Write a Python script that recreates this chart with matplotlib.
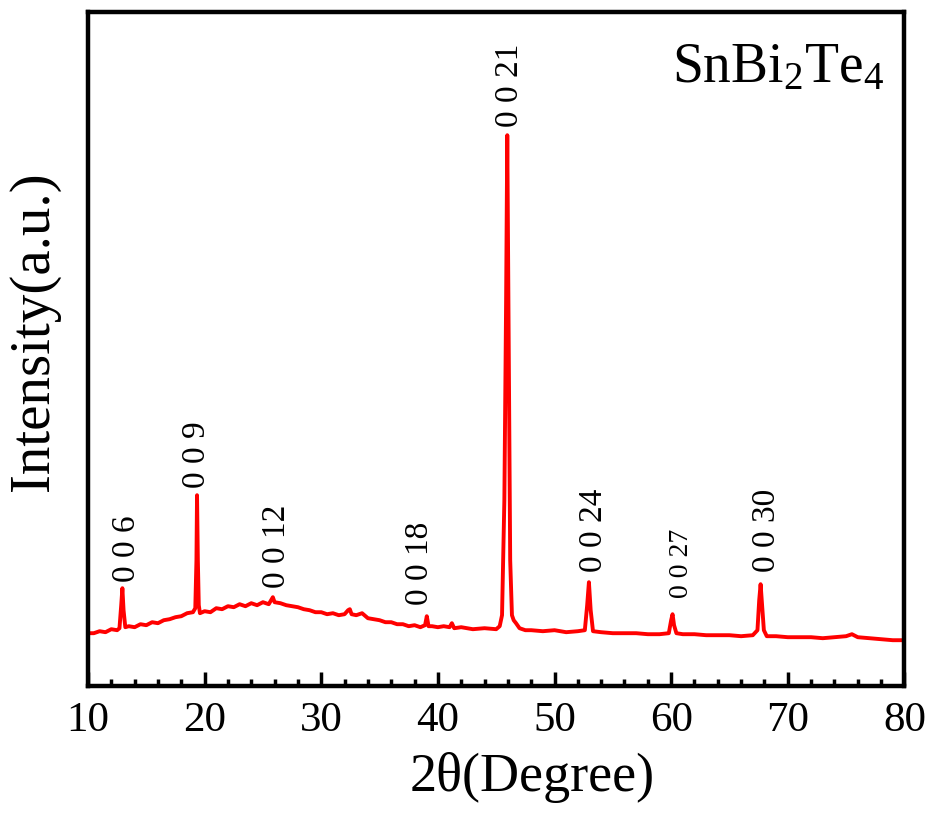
import matplotlib
matplotlib.use("Agg")
import matplotlib.pyplot as plt
from matplotlib.ticker import MultipleLocator

plt.rcParams["font.family"] = ["Liberation Serif", "DejaVu Serif"]
plt.rcParams["mathtext.fontset"] = "custom"
plt.rcParams["mathtext.rm"] = "Liberation Serif"
plt.rcParams["mathtext.it"] = "Liberation Serif:italic"

# ── XRD pattern (2θ in degrees, intensity a.u.) ──
two_theta = [
    10.0, 10.5, 11.0, 11.5, 12.0, 12.5, 12.7, 12.85, 12.95, 13.05, 13.2, 13.5,
    14.0, 14.5, 15.0, 15.5, 16.0, 16.5, 17.0, 17.5, 18.0, 18.5, 19.0, 19.2,
    19.3, 19.35, 19.42, 19.5, 19.6, 20.0, 20.5, 21.0, 21.5, 22.0, 22.5, 23.0,
    23.5, 24.0, 24.5, 25.0, 25.5, 25.7, 25.85, 26.0, 26.5, 27.0, 27.5, 28.0,
    28.5, 29.0, 29.5, 30.0, 30.5, 31.0, 31.5, 32.0, 32.3, 32.45, 32.6, 33.0,
    33.5, 34.0, 34.5, 35.0, 35.5, 36.0, 36.5, 37.0, 37.5, 38.0, 38.5, 38.9,
    39.05, 39.2, 39.5, 40.0, 40.5, 41.0, 41.2, 41.4, 42.0, 43.0, 44.0, 45.0,
    45.3, 45.5, 45.7, 45.85, 45.95, 46.05, 46.2, 46.35, 46.5, 46.7, 47.0, 47.5,
    48.0, 49.0, 50.0, 51.0, 52.0, 52.6, 52.8, 52.95, 53.1, 53.3, 54.0, 55.0,
    56.0, 57.0, 58.0, 59.0, 59.8, 60.0, 60.12, 60.25, 60.45, 61.0, 62.0, 63.0,
    64.0, 65.0, 66.0, 67.0, 67.4, 67.55, 67.67, 67.8, 67.95, 68.2, 69.0, 70.0,
    71.0, 72.0, 73.0, 74.0, 75.0, 75.5, 76.0, 77.0, 78.0, 79.0, 80.0,
]
intensity = [
    53, 53, 55, 54, 57, 56, 58, 81, 98, 76, 59, 60,
    59, 62, 61, 64, 63, 66, 67, 69, 70, 73, 74, 78,
    126, 191, 126, 81, 73, 75, 74, 78, 77, 80, 79, 82,
    80, 83, 81, 84, 82, 86, 89, 84, 83, 81, 80, 79,
    77, 76, 74, 74, 72, 73, 71, 72, 76, 77, 72, 71,
    73, 68, 67, 66, 64, 64, 62, 62, 60, 61, 59, 61,
    70, 60, 60, 59, 60, 59, 63, 58, 59, 57, 58, 57,
    60, 71, 186, 386, 551, 386, 126, 71, 66, 63, 58, 56,
    56, 55, 56, 54, 55, 56, 81, 104, 76, 55, 54, 53,
    53, 53, 52, 52, 53, 66, 72, 61, 53, 52, 52, 51,
    51, 51, 50, 51, 56, 86, 102, 81, 56, 50, 50, 49,
    49, 49, 48, 49, 50, 52, 49, 48, 47, 46, 46,
]

# peak indexing (00l) and where the labels sit
hkl = ["0 0 6", "0 0 9", "0 0 12", "0 0 18", "0 0 21", "0 0 24", "0 0 27", "0 0 30"]
label_x = [13.3, 19.35, 26.2, 38.45, 46.15, 53.35, 60.9, 68.2]
label_y = [104, 198, 98, 81, 559, 114, 88, 114]
label_fs = [24, 24, 24, 24, 24, 24, 20, 24]

fig = plt.figure(figsize=(9.32, 8.14), dpi=100)
ax = fig.add_axes([0.0944, 0.157, 0.876, 0.828])

ax.plot(two_theta, intensity, color="red", lw=2.8)

for t, x, y, fs in zip(hkl, label_x, label_y, label_fs):
    ax.text(x, y, t, rotation=90, ha="center", va="bottom", fontsize=fs)

ax.text(0.975, 0.955, r"SnBi$_2$Te$_4$", transform=ax.transAxes,
        ha="right", va="top", fontsize=40)

ax.set_xlim(10, 80)
ax.set_ylim(0, 674)
ax.xaxis.set_major_locator(MultipleLocator(10))
ax.xaxis.set_minor_locator(MultipleLocator(2))
ax.tick_params(axis="x", which="major", direction="in", length=10, width=2.5,
               labelsize=31, pad=11, top=False)
ax.tick_params(axis="x", which="minor", direction="in", length=5, width=2.5,
               top=False)
ax.set_yticks([])
for s in ax.spines.values():
    s.set_linewidth(3.2)

ax.set_xlabel("2θ(Degree)", fontsize=39)
ax.xaxis.set_label_coords(0.544, -0.098)
ax.set_ylabel("Intensity(a.u.)", fontsize=41)
ax.yaxis.set_label_coords(-0.034, 0.527)

fig.savefig("out.png", dpi=100, facecolor="white")
